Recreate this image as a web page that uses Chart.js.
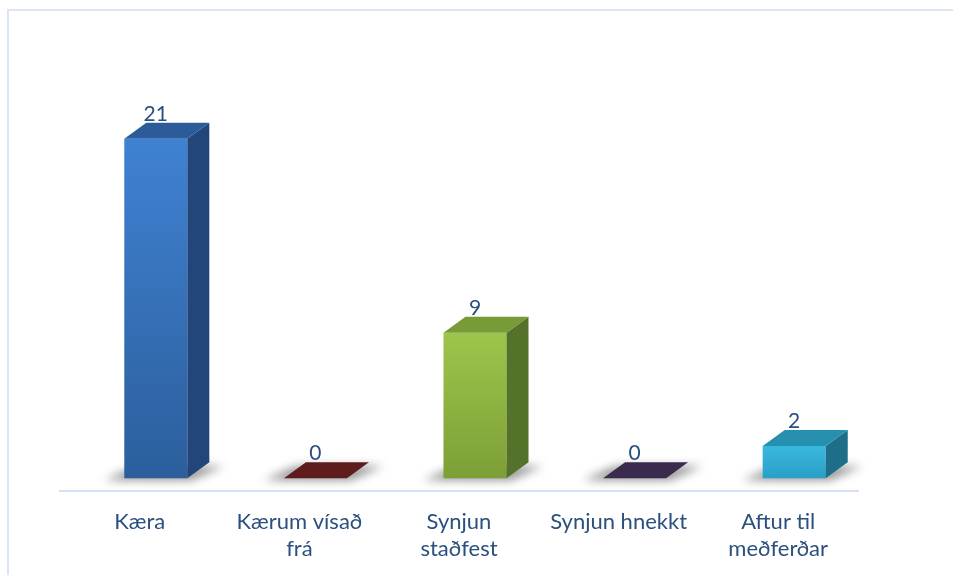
<!DOCTYPE html>
<html>
<head>
<meta charset="utf-8">
<script src="https://cdn.jsdelivr.net/npm/chart.js@4.4.1/dist/chart.umd.min.js"></script>
<style>
  html, body { margin: 0; padding: 0; background: #fff; overflow: hidden; }
  #frame {
    position: absolute; left: 7px; top: 9px; width: 1000px; height: 700px;
    border-top: 2px solid #dce6f4; border-left: 2px solid #dce6f4;
  }
  #wrap { position: absolute; left: 0; top: 0; width: 953px; height: 575px; }
</style>
</head>
<body>
<div id="frame"></div>
<div id="wrap"><canvas id="chart"></canvas></div>
<script>
  // categories and values
  const categories = [
    'Kæra',
    ['Kærum vísað', 'frá'],
    ['Synjun', 'staðfest'],
    'Synjun hnekkt',
    ['Aftur til', 'meðferðar']
  ];
  const counts = [21, 0, 9, 0, 2];

  // colours for each bar: front top, front bottom, side, top
  const barColors = [
    ['#3f82d2', '#2c5e9c', '#22467a', '#2b5b98'],
    ['#6a2020', '#5a1b1b', '#4a1515', '#5e1c1c'],
    ['#9dc54b', '#7c9f36', '#55722a', '#789b37'],
    ['#45325c', '#3a2a4e', '#2f2240', '#3a2a4e'],
    ['#39b8de', '#2a9fc6', '#1d6e88', '#2690ae']
  ];

  const textColor = '#2b4f7e';
  const depthX = 22;
  const depthY = 16;
  const shiftX = 16;

  // draws 3D boxes on top of the (invisible) bar elements
  const box3d = {
    id: 'box3d',
    afterDatasetsDraw(chart) {
      const ctx = chart.ctx;
      const meta = chart.getDatasetMeta(0);
      meta.data.forEach((bar, i) => {
        const c = barColors[i];
        const w = bar.width;
        const x0 = bar.x - w / 2 + shiftX;
        const x1 = x0 + w;
        const top = bar.y;
        const base = bar.base;

        // soft floor shadow
        ctx.save();
        ctx.filter = 'blur(5px)';
        ctx.fillStyle = 'rgba(60,60,60,0.55)';
        ctx.beginPath();
        ctx.moveTo(x0 - 20, base + 2);
        ctx.lineTo(x1 + 4, base + 2);
        ctx.lineTo(x1 + depthX + 14, base - depthY + 4);
        ctx.lineTo(x0 + depthX - 10, base - depthY + 4);
        ctx.closePath();
        ctx.fill();
        ctx.restore();

        ctx.save();
        if (base - top > 0.5) {
          // front face
          const g = ctx.createLinearGradient(0, top, 0, base);
          g.addColorStop(0, c[0]);
          g.addColorStop(1, c[1]);
          ctx.fillStyle = g;
          ctx.fillRect(x0, top, w, base - top);
          // side face
          ctx.fillStyle = c[2];
          ctx.beginPath();
          ctx.moveTo(x1, top);
          ctx.lineTo(x1 + depthX, top - depthY);
          ctx.lineTo(x1 + depthX, base - depthY);
          ctx.lineTo(x1, base);
          ctx.closePath();
          ctx.fill();
        }
        // top face
        ctx.fillStyle = c[3];
        ctx.beginPath();
        ctx.moveTo(x0, top);
        ctx.lineTo(x1, top);
        ctx.lineTo(x1 + depthX, top - depthY);
        ctx.lineTo(x0 + depthX, top - depthY);
        ctx.closePath();
        ctx.fill();

        // value label
        ctx.fillStyle = textColor;
        ctx.font = '21px Lato';
        ctx.textAlign = 'center';
        ctx.textBaseline = 'alphabetic';
        ctx.fillText(String(counts[i]), x0 + w / 2, top - depthY - 2);
        ctx.restore();
      });
    }
  };

  new Chart(document.getElementById('chart'), {
    type: 'bar',
    data: {
      labels: categories,
      datasets: [{
        data: counts,
        backgroundColor: 'rgba(0,0,0,0)',
        categoryPercentage: 1,
        barPercentage: 0.395
      }]
    },
    options: {
      responsive: true,
      maintainAspectRatio: false,
      animation: false,
      layout: { padding: { left: 60, right: 95, top: 58, bottom: 3 } },
      plugins: {
        legend: { display: false },
        tooltip: { enabled: false }
      },
      scales: {
        x: {
          grid: { display: false },
          border: { color: '#d6e2f3', width: 2 },
          ticks: {
            color: textColor,
            font: { family: 'Lato', size: 22 },
            padding: 10,
            maxRotation: 0
          }
        },
        y: {
          display: false,
          min: -0.8,
          max: 26
        }
      }
    },
    plugins: [box3d]
  });
</script>
</body>
</html>
